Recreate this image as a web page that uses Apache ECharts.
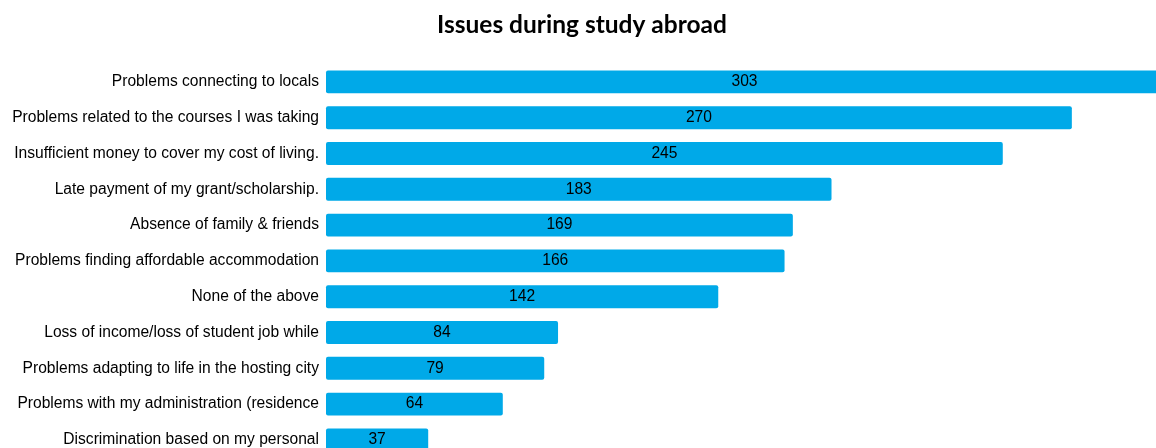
<!DOCTYPE html>
<html><head><meta charset="utf-8">
<script src="https://cdn.jsdelivr.net/npm/echarts@6/dist/echarts.min.js"></script>
<style>html,body{margin:0;padding:0;background:#fff}#c{width:1156px;height:448px}</style>
</head><body><div id="c"></div>
<script>
const titleText = 'Issues during study abroad';
const categories = [
  'Problems connecting to locals',
  'Problems related to the courses I was taking',
  'Insufficient money to cover my cost of living.',
  'Late payment of my grant/scholarship.',
  'Absence of family & friends',
  'Problems finding affordable accommodation',
  'None of the above',
  'Loss of income/loss of student job while',
  'Problems adapting to life in the hosting city',
  'Problems with my administration (residence',
  'Discrimination based on my personal'
];
const values = [303, 270, 245, 183, 169, 166, 142, 84, 79, 64, 37];

const chart = echarts.init(document.getElementById('c'));
chart.setOption({
  animation: false,
  title: {
    text: titleText, left: 432, top: 8,
    textStyle: {fontFamily: 'Lato', fontWeight: 'bold', fontSize: 24.5, color: '#000'}
  },
  grid: {left: 326, top: 64, width: 837, height: 393.8, containLabel: false, outerBoundsMode: 'none'},
  xAxis: {type: 'value', min: 0, max: 303, show: false},
  yAxis: {
    type: 'category', data: categories, inverse: true,
    axisLine: {show: false}, axisTick: {show: false},
    axisLabel: {fontFamily: 'Liberation Sans', fontSize: 15.6, color: '#000', margin: 7}
  },
  series: [{
    type: 'bar', data: values, barCategoryGap: '36%', clip: false,
    itemStyle: {color: '#00A9E8', borderRadius: 2},
    label: {show: true, position: 'inside', fontFamily: 'Liberation Sans', fontSize: 15.6, color: '#000'}
  }]
});
</script></body></html>
